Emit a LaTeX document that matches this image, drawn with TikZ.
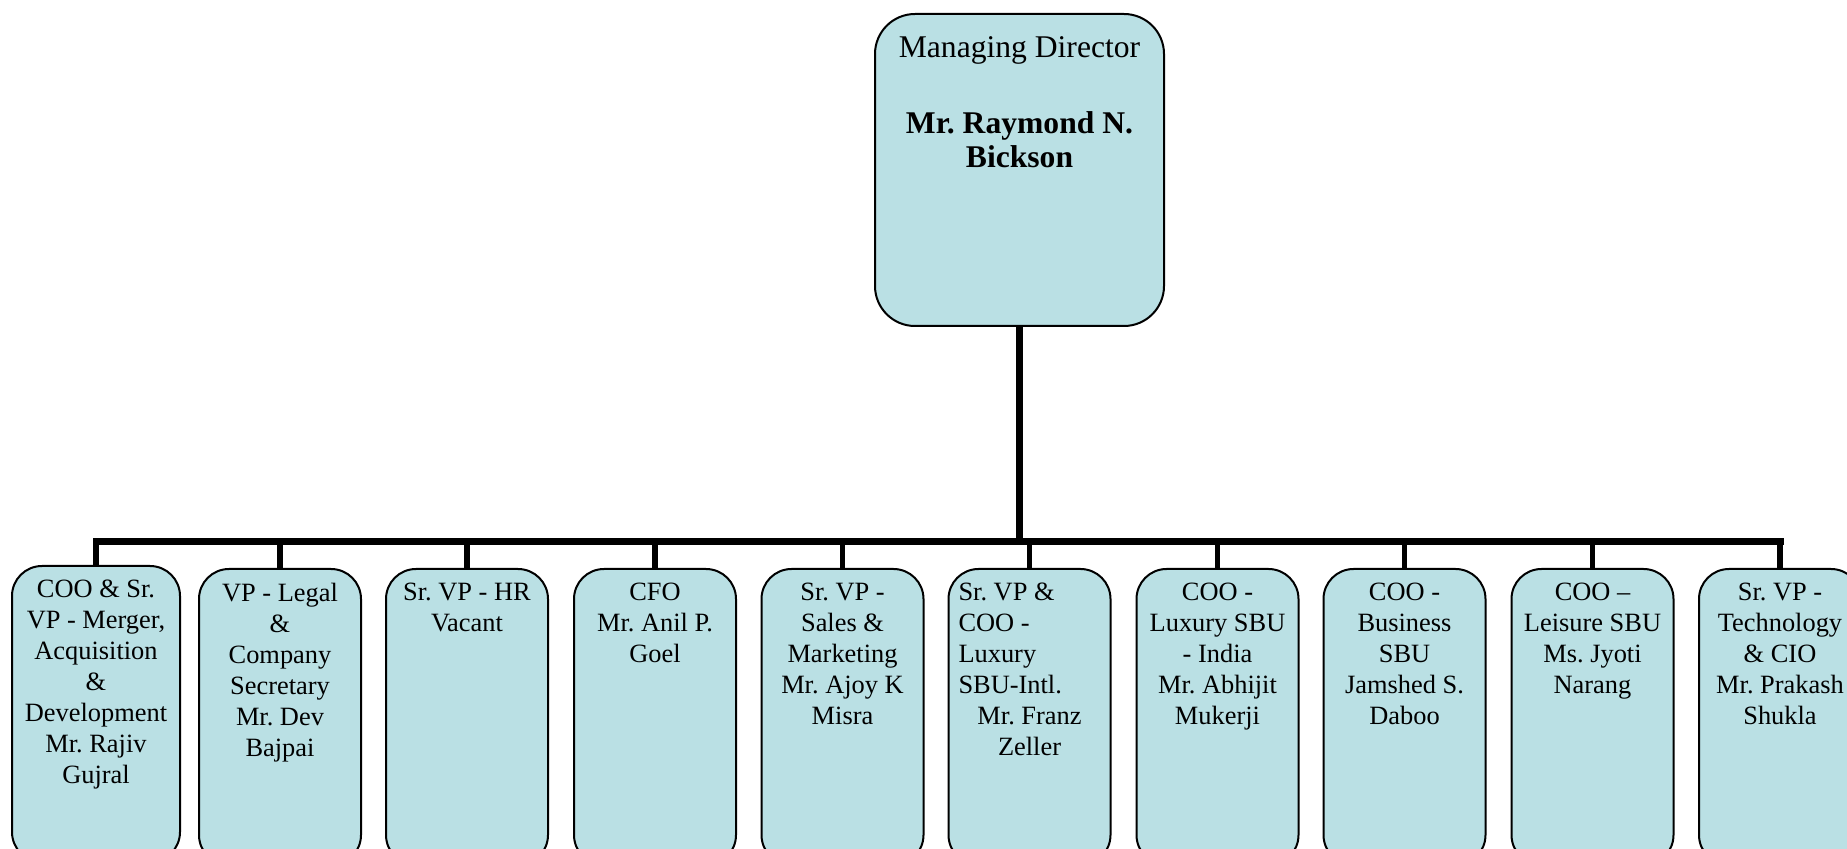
\documentclass[tikz,border=0pt]{standalone}
\usepackage{fontspec}
\setmainfont{Liberation Serif}
\definecolor{boxfill}{RGB}{186,224,228}
\begin{document}
\frenchspacing
\begin{tikzpicture}[x=0.5pt,y=-0.5pt,
  topbox/.style={draw=black, line width=1pt, fill=boxfill, rounded corners=20pt,
    anchor=north, minimum width=144.5pt, minimum height=156pt, inner sep=0pt},
  box/.style={draw=black, line width=1pt, fill=boxfill, rounded corners=15pt,
    anchor=north, minimum width=81pt, minimum height=148pt, inner sep=0pt},
  btext/.style={anchor=north, inner sep=0pt, align=center,
    font=\fontsize{13.2}{15.5}\selectfont},
  mdtitle/.style={anchor=north, inner sep=0pt, align=center,
    font=\fontsize{15.8}{17}\selectfont},
  mdname/.style={anchor=north, inner sep=0pt, align=center,
    font=\fontsize{15.8}{17}\selectfont\bfseries},
  stub/.style={line width=2.65pt},
  trunk/.style={line width=3.5pt}]
\useasboundingbox (0,0) rectangle (1847,849);
\clip (0,0) rectangle (1847,849);

% top box
\node[topbox] (md) at (1019.5,13) {};
\node[mdtitle] (mdt) at ([yshift=-11.7pt]md.north) {Managing Director};
\node[mdname] (mdn) at ([yshift=-49.3pt]md.north) {Mr. Raymond N.\\Bickson};

% bottom boxes
\node[box, minimum width=84pt] (b1) at (96,565) {};
\node[box] (b2) at (280,568) {};
\node[box] (b3) at (467,568) {};
\node[box] (b4) at (655,568) {};
\node[box] (b5) at (842.5,568) {};
\node[box] (b6) at (1029.5,568) {};
\node[box] (b7) at (1217.5,568) {};
\node[box] (b8) at (1404.5,568) {};
\node[box] (b9) at (1592.5,568) {};
\node[box] (b10) at (1780,568) {};

\node[btext] (t1) at ([yshift=-7.5pt]b1.north) {COO \& Sr.\\VP - Merger,\\Acquisition\\\&\\Development\\Mr. Rajiv\\Gujral};
\node[btext] (t2) at ([yshift=-7.5pt]b2.north) {VP - Legal\\\&\\Company\\Secretary\\Mr. Dev\\Bajpai};
\node[btext] (t3) at ([yshift=-7.5pt]b3.north) {Sr. VP - HR\\Vacant};
\node[btext] (t4) at ([yshift=-7.5pt]b4.north) {CFO\\Mr. Anil P.\\Goel};
\node[btext] (t5) at ([yshift=-7.5pt]b5.north) {Sr. VP -\\Sales \&\\Marketing\\Mr. Ajoy K\\Misra};
\node[btext, align=left] (t6) at ([yshift=-7.5pt]b6.north) {Sr. VP \&\\COO -\\Luxury\\SBU-Intl.\\\makebox[71pt][c]{Mr. Franz}\\\makebox[71pt][c]{Zeller}};
\node[btext] (t7) at ([yshift=-7.5pt]b7.north) {COO -\\Luxury SBU\\- India\\Mr. Abhijit\\Mukerji};
\node[btext] (t8) at ([yshift=-7.5pt]b8.north) {COO -\\Business\\SBU\\Jamshed S.\\Daboo};
\node[btext] (t9) at ([yshift=-7.5pt]b9.north) {COO –\\Leisure SBU\\Ms. Jyoti\\Narang};
\node[btext] (t10) at ([yshift=-7.5pt]b10.north) {Sr. VP -\\Technology\\\& CIO\\Mr. Prakash\\Shukla};

% connectors
\coordinate (bar) at (1019.5,542);
\draw[trunk] (md.south) -- (bar);
\draw[trunk, line cap=rect] (b1.north |- bar) -- (b10.north |- bar);
\foreach \i in {1,...,10} \draw[stub] (b\i.north |- bar) -- (b\i.north);
\end{tikzpicture}
\end{document}
